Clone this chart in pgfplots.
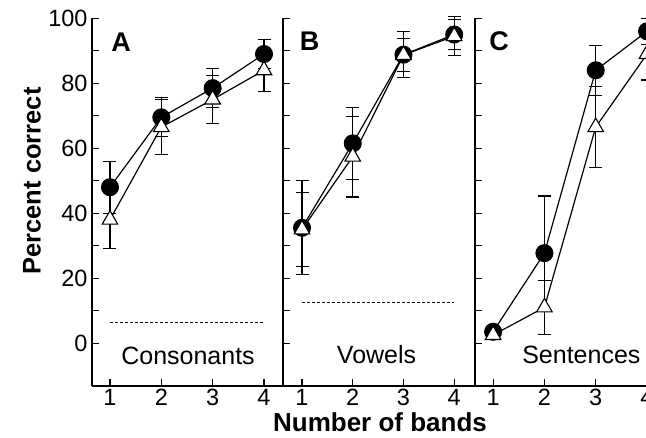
\documentclass[border=0pt]{standalone}
\usepackage{pgfplots}
\pgfplotsset{compat=1.18}
\usepackage{fontspec}
\setmainfont{Liberation Sans}
\begin{document}
\begin{tikzpicture}
\useasboundingbox (0bp,0bp) rectangle (646bp,438bp);
\pgfplotsset{
  panel/.style={
    scale only axis,
    anchor=south west,
    height=367.7bp,
    ymin=-13.2, ymax=100,
    axis x line=bottom, axis y line=left,
    axis line style={line width=1.5bp,-},
    xtick={1,2,3,4},
    ytick={0,20,...,100},
    minor ytick={10,30,...,90},
    tick align=inside,
    major tick length=7bp, minor tick length=7bp,
    every tick/.style={line width=1.2bp,black},
    tick label style={font=\fontsize{23.5bp}{27bp}\selectfont},
    yticklabel style={xshift=-1bp},
    /pgf/number format/assume math mode=true,
    clip=false,
  },
  circ/.style={black, line width=1.2bp, mark=*, mark size=8.5bp,
    mark options={fill=black, line width=1bp},
    error bars/.cd, y dir=both, y explicit,
    error bar style={line width=1.1bp, black},
    error mark options={rotate=90, mark size=6.5bp, line width=1.1bp, black}},
  tri/.style={black, line width=1.2bp, mark=triangle*, mark size=9bp,
    mark options={fill=white, line width=1.1bp},
    error bars/.cd, y dir=both, y explicit,
    error bar style={line width=1.1bp, black},
    error mark options={rotate=90, mark size=6.5bp, line width=1.1bp, black}},
  chance/.style={black, line width=1.1bp, dash pattern=on 3bp off 2bp},
}

% A: consonants
\begin{axis}[panel, at={(92bp,52bp)}, width=191bp, xmin=0.65, xmax=4.37]
\addplot[chance] coordinates {(1,6.25) (4,6.25)};
\addplot[circ] coordinates {(1,48) +- (0,8) (2,69.5) +- (0,6) (3,78.5) +- (0,6) (4,89) +- (0,4.5)};
\addplot[tri] coordinates {(1,38) +- (0,9) (2,66.5) +- (0,8.5) (3,75) +- (0,7.5) (4,84) +- (0,6.5)};
\node[anchor=base, font=\fontsize{25bp}{29bp}\selectfont] at (axis cs:2.52,-6.7) {Consonants};
\end{axis}

% B: vowels
\begin{axis}[panel, at={(283bp,52bp)}, width=192bp, xmin=0.625, xmax=4.41, yticklabels={}]
\addplot[chance] coordinates {(1,12.5) (4,12.5)};
\addplot[circ] coordinates {(1,35.5) +- (0,14.5) (2,61.5) +- (0,11) (3,88.8) +- (0,7) (4,95) +- (0,4.5)};
\addplot[tri] coordinates {(1,35) +- (0,11.5) (2,57.4) +- (0,12.4) (3,88.7) +- (0,5) (4,94.5) +- (0,6)};
\node[anchor=base, font=\fontsize{25bp}{29bp}\selectfont] at (axis cs:2.47,-6.2) {Vowels};
\end{axis}

% C: sentences
\begin{axis}[panel, at={(475bp,52bp)}, width=191bp, xmin=0.647, xmax=4.37, yticklabels={}]
\addplot[circ] coordinates {(1,3.5) +- (0,1.5) (2,27.7) +- (0,17.6) (3,84) +- (0,7.7) (4,96) +- (0,4)};
\addplot[tri] coordinates {(1,2.5) +- (0,1.5) (2,11) +- (0,8.3) (3,66.5) +- (0,12.5) (4,89) +- (0,8)};
\node[anchor=base, font=\fontsize{25bp}{29bp}\selectfont] at (axis cs:2.72,-6.2) {Sentences};
\end{axis}

\node[font=\bfseries\fontsize{27bp}{31bp}\selectfont] at (121bp,395.5bp) {A};
\node[font=\bfseries\fontsize{27bp}{31bp}\selectfont] at (309.5bp,397bp) {B};
\node[font=\bfseries\fontsize{27bp}{31bp}\selectfont] at (499bp,397bp) {C};
\node[rotate=90, font=\bfseries\fontsize{25.5bp}{30bp}\selectfont] at (32bp,257bp) {Percent correct};
\node[font=\bfseries\fontsize{26bp}{30bp}\selectfont] at (380bp,16bp) {Number of bands};
\end{tikzpicture}
\end{document}
